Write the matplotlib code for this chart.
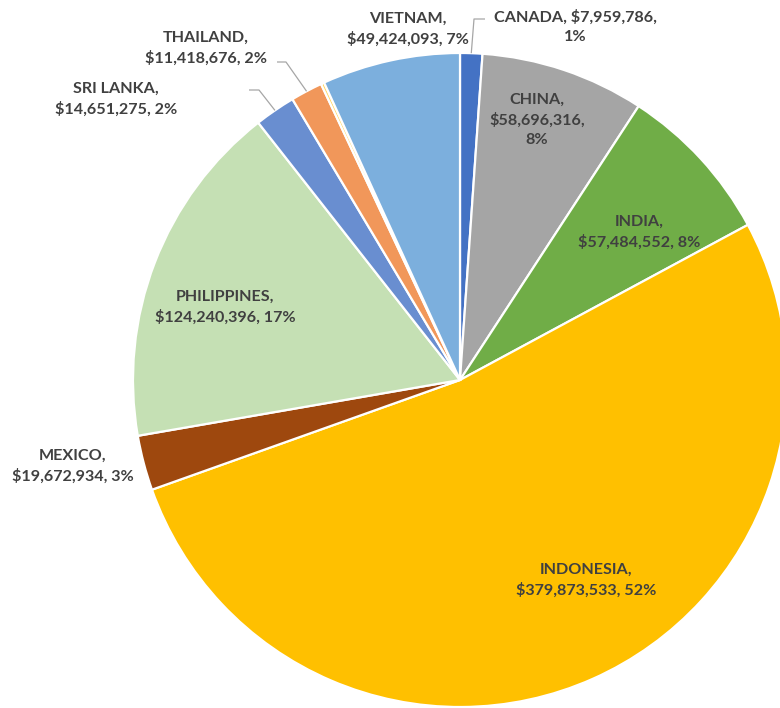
import numpy as np
import matplotlib
matplotlib.use("Agg")
import matplotlib.pyplot as plt

# Data (clockwise from 12 o'clock)
countries = ["CANADA", "CHINA", "INDIA", "INDONESIA", "MEXICO",
             "PHILIPPINES", "SRI LANKA", "THAILAND", "", "VIETNAM"]
amounts = [7959786, 58696316, 57484552, 379873533, 19672934,
           124240396, 14651275, 11418676, 1200000, 49424093]
pct_labels = ["1%", "8%", "8%", "52%", "3%", "17%", "2%", "2%", "", "7%"]
colors = ["#4472C4", "#A5A5A5", "#70AD47", "#FFC000", "#9E480E",
          "#C5E0B4", "#698ED0", "#F1975A", "#FFD966", "#7CAFDD"]

W, H = 780, 708
fig = plt.figure(figsize=(W / 100, H / 100), dpi=100)
ax = fig.add_axes([0, 0, 1, 1])

cx, cy, R = 460, H - 380, 327
wedges, _ = ax.pie(amounts, colors=colors, startangle=90, counterclock=False,
                   center=(cx, cy), radius=R, frame=True,
                   wedgeprops=dict(edgecolor="white", linewidth=1.6))
ax.set_xlim(0, W)
ax.set_ylim(0, H)
ax.set_aspect("equal")
ax.axis("off")

txt_kw = dict(ha="center", va="center", fontsize=11.6, fontweight="bold",
              color="#404040", family="Lato", linespacing=1.45)

def money(v):
    return "${:,}".format(v)

# label text blocks: (x, y centre in pixels from top, format)
labels = {
    0: (575, 27, "{}, {},\n{}"),
    1: (537, 120, "{},\n{},\n{}"),
    2: (639, 232, "{},\n{}, {}"),
    3: (586, 580, "{},\n{}, {}"),
    4: (73, 466, "{},\n{}, {}"),
    5: (225, 307, "{},\n{}, {}"),
    6: (116, 99, "{},\n{}, {}"),
    7: (206, 48, "{},\n{}, {}"),
    9: (408, 29, "{},\n{}, {}"),
}
for i, (x, y, fmt) in labels.items():
    ax.text(x, H - y, fmt.format(countries[i], money(amounts[i]), pct_labels[i]), **txt_kw)

# leader lines: from wedge outer edge to label
def edge_point(i, r):
    w = wedges[i]
    ang = np.deg2rad((w.theta1 + w.theta2) / 2)
    return cx + r * np.cos(ang), cy + r * np.sin(ang)

leaders = {
    0: [(474, 19), (485, 19)],
    7: [(286, 62), (277, 62)],
    6: [(259, 90), (249, 90)],
}
for i, pts in leaders.items():
    x0, y0 = edge_point(i, R)
    xs = [x0] + [p[0] for p in pts]
    ys = [y0] + [H - p[1] for p in pts]
    ax.plot(xs, ys, color="#A6A6A6", linewidth=0.9, solid_capstyle="butt")

fig.savefig("out.png", dpi=100, facecolor="white")
